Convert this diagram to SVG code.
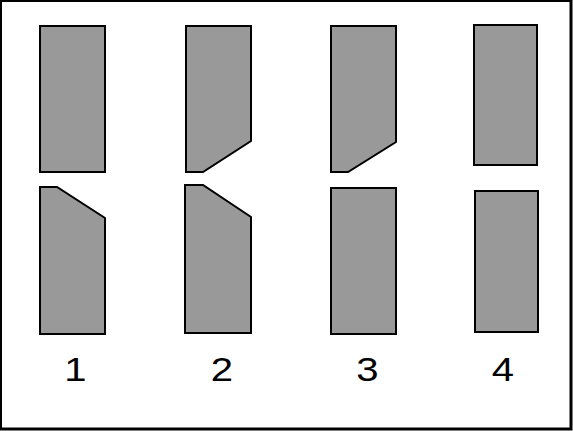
<svg xmlns="http://www.w3.org/2000/svg" width="573" height="431" viewBox="0 0 573 431">
<style>
.p{fill:#999999;stroke:#000;stroke-width:2;stroke-linejoin:miter}
.t{font-family:"Liberation Sans",Arial,sans-serif;font-size:34px;fill:#000;text-anchor:middle}
</style>
<rect x="0" y="0" width="573" height="431" fill="#fff"/>
<rect x="0.5" y="0.5" width="570.5" height="428.5" fill="none" stroke="#000" stroke-width="3"/>
<g id="n1">
<rect class="p" x="40" y="26" width="65" height="146"/>
<polygon class="p" points="40,187 57,187 105,218 105,334 40,334"/>
<text class="t" transform="translate(75.5,381) scale(1.18,1)">1</text>
</g>
<g id="n2">
<polygon class="p" points="186,26 251,26 251,141 203,172 186,172"/>
<polygon class="p" points="185,185 203,185 251,217 251,333 185,333"/>
<text class="t" transform="translate(222,381) scale(1.18,1)">2</text>
</g>
<g id="n3">
<polygon class="p" points="331,26 396,26 396,142 348,172 331,172"/>
<rect class="p" x="331" y="188" width="65" height="146"/>
<text class="t" transform="translate(367.5,381) scale(1.18,1)">3</text>
</g>
<g id="n4">
<rect class="p" x="474" y="25" width="63" height="140"/>
<rect class="p" x="475" y="191" width="63" height="141"/>
<text class="t" transform="translate(502.8,381) scale(1.18,1)">4</text>
</g>
<g id="connectors"></g>
</svg>
